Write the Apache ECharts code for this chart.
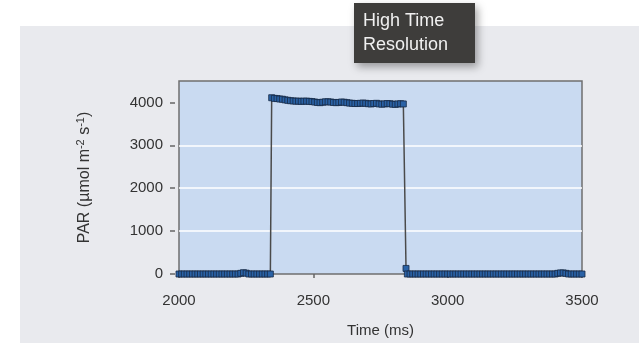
<!DOCTYPE html>
<html>
<head>
<meta charset="utf-8">
<script src="https://cdn.jsdelivr.net/npm/echarts@6/dist/echarts.min.js"></script>
<style>
html,body{margin:0;padding:0;background:#ffffff;}
#wrap{position:relative;width:639px;height:343px;overflow:hidden;}
#bg{position:absolute;left:20px;top:26px;width:619px;height:317px;background:#e9eaee;}
#chart{position:absolute;left:0;top:0;width:639px;height:343px;}
</style>
</head>
<body>
<div id="wrap"><div id="bg"></div><div id="chart"></div></div>
<script>
// Time (ms)
var times = [
  2000,2010,2020,2030,2040,2050,2060,2070,2080,2090,
  2100,2110,2120,2130,2140,2150,2160,2170,2180,2190,
  2200,2210,2220,2230,2240,2250,2260,2270,2280,2290,
  2300,2310,2320,2330,2340,
  2345,2355,2365,2375,2385,2395,2405,2415,2425,2435,
  2445,2455,2465,2475,2485,2495,2505,2515,2525,2535,
  2545,2555,2565,2575,2585,2595,2605,2615,2625,2635,
  2645,2655,2665,2675,2685,2695,2705,2715,2725,2735,
  2745,2755,2765,2775,2785,2795,2805,2815,2825,2835,
  2845,
  2850,2860,2870,2880,2890,2900,2910,2920,2930,2940,
  2950,2960,2970,2980,2990,3000,3010,3020,3030,3040,
  3050,3060,3070,3080,3090,3100,3110,3120,3130,3140,
  3150,3160,3170,3180,3190,3200,3210,3220,3230,3240,
  3250,3260,3270,3280,3290,3300,3310,3320,3330,3340,
  3350,3360,3370,3380,3390,3400,3410,3420,3430,3440,
  3450,3460,3470,3480,3490,3500
];
// PAR (µmol m-2 s-1)
var par = [
  0,0,0,0,0,0,0,0,0,0,
  0,0,0,0,0,0,0,0,0,0,
  0,0,0,15,30,20,0,0,0,0,
  0,0,0,0,0,
  4110,4095,4090,4080,4075,4060,4050,4040,4035,4030,
  4030,4025,4030,4030,4025,4020,4010,4000,3995,4005,
  4015,4015,4010,4000,3995,4000,4010,4005,3995,3985,
  3980,3975,3975,3980,3985,3980,3970,3965,3975,3980,
  3965,3960,3965,3975,3970,3960,3955,3965,3970,3965,
  130,
  0,0,0,0,0,0,0,0,0,0,
  0,0,0,0,0,0,0,0,0,0,
  0,0,0,0,0,0,0,0,0,0,
  0,0,0,0,0,0,0,0,0,0,
  0,0,0,0,0,0,0,0,0,0,
  0,0,0,0,0,0,15,25,25,15,
  0,0,0,0,0,0
];
var xTicks = [2000, 2500, 3000, 3500];
var yTicks = [0, 1000, 2000, 3000, 4000];

var seriesData = times.map(function (t, i) { return [t, par[i]]; });

var FONT = 'Liberation Sans, Arial, Helvetica, sans-serif';
var plain = function (v) { return String(v); };
var chart = echarts.init(document.getElementById('chart'), null, {renderer: 'canvas'});
chart.setOption({
  animation: false,
  backgroundColor: 'transparent',
  textStyle: {fontFamily: FONT},
  grid: {
    left: 179, top: 81, width: 403, height: 193,
    show: true, backgroundColor: '#c9daf1',
    borderColor: '#6f6f6f', borderWidth: 1.5
  },
  xAxis: {
    type: 'value', min: 2000, max: 3500, interval: 500,
    offset: 5,
    axisLine: {show: false},
    axisTick: {show: true, length: 4, lineStyle: {color: '#666', width: 1.5}, customValues: xTicks},
    axisLabel: {color: '#333', fontSize: 15, margin: 14, fontFamily: FONT, customValues: xTicks, formatter: plain},
    splitLine: {show: false},
    name: 'Time (ms)', nameLocation: 'middle', nameGap: 44,
    nameTextStyle: {color: '#333', fontSize: 15, fontFamily: FONT}
  },
  yAxis: {
    type: 'value', min: 0, max: 4500, interval: 1000,
    offset: 4,
    axisLine: {show: false},
    axisTick: {show: true, length: 5, lineStyle: {color: '#666', width: 1.5}, customValues: yTicks},
    axisLabel: {color: '#333', fontSize: 15, margin: 12, fontFamily: FONT, customValues: yTicks, formatter: plain},
    splitLine: {show: true, showMinLine: false, showMaxLine: false, lineStyle: {color: '#ffffff', width: 1.5}},
    name: '{a|PAR (µmol m}{sup|-2}{a| s}{sup|-1}{a|)}',
    nameLocation: 'middle', nameGap: 80,
    nameTextStyle: {
      color: '#333', fontSize: 16, fontFamily: FONT,
      rich: {
        a: {fontSize: 16, color: '#333', fontFamily: FONT},
        sup: {fontSize: 11, color: '#333', fontFamily: FONT, padding: [0, 0, 9, 0]}
      }
    }
  },
  series: [{
    type: 'line',
    data: seriesData,
    symbol: 'rect',
    symbolSize: 6,
    showAllSymbol: true,
    lineStyle: {color: '#4a4a4a', width: 1.5},
    itemStyle: {color: '#2a62a6', borderColor: '#172a45', borderWidth: 0.8},
    z: 3
  }],
  graphic: [
    {
      type: 'rect', z: 100,
      shape: {x: 354, y: 3, width: 121, height: 60},
      style: {fill: '#3e3d3b', shadowBlur: 8, shadowOffsetX: 3, shadowOffsetY: 4, shadowColor: 'rgba(0,0,0,0.35)'}
    },
    {
      type: 'text', z: 101,
      x: 363, y: 9,
      style: {text: 'High Time\nResolution', fill: '#f0f0f0', font: '18px ' + FONT, lineHeight: 24}
    }
  ]
});
</script>
</body>
</html>
